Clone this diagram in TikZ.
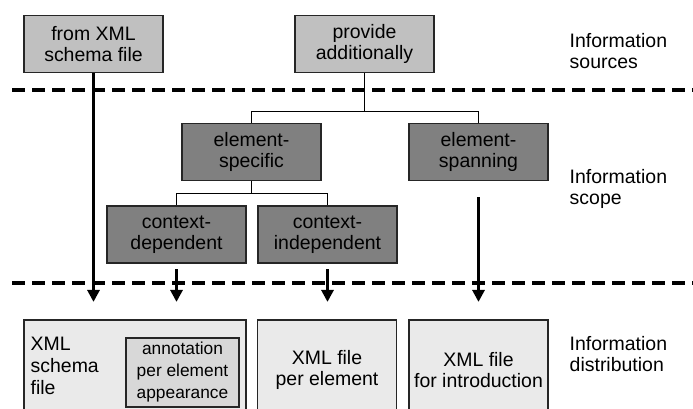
\documentclass[tikz,border=0pt]{standalone}
\usepackage{fontspec}
\setmainfont{Liberation Sans}
\usetikzlibrary{positioning,arrows.meta}

\definecolor{srcgray}{RGB}{192,192,192}
\definecolor{scopegray}{RGB}{128,128,128}
\definecolor{distgray}{RGB}{234,234,234}
\definecolor{annotgray}{RGB}{216,216,216}

\begin{document}
\begin{tikzpicture}[
  x=0.75pt, y=0.75pt,
  every node/.style={font=\fontsize{14.6pt}{15.8pt}\selectfont, align=center},
  box/.style={draw=black!85, line width=1.1pt, rectangle, minimum width=104pt, minimum height=43pt, inner sep=0pt},
  srcbox/.style={box, fill=srcgray},
  scopebox/.style={box, fill=scopegray},
  distbox/.style={box, fill=distgray, minimum height=75pt},
  tree/.style={line width=1.1pt},
  flow/.style={line width=2.3pt, -{Triangle[length=9pt, width=9pt]}},
  border/.style={line width=2.4pt, dash pattern=on 9.75pt off 5.25pt},
  lane/.style={anchor=west, align=left},
]
\useasboundingbox (0,0) rectangle (693,408);

% information sources
\node (fromxml) [srcbox] at (93.5,364) {from XML\\schema file};
\node (provide) [srcbox] at (364.5,364) {provide\\additionally};

% information scope
\node (elemspec) [scopebox] at (251.5,256) {element-\\specific};
\node (elemspan) [scopebox] at (478.5,256) {element-\\spanning};
\node (ctxdep) [scopebox] at (176.5,173.5) {context-\\dependent};
\node (ctxindep) [scopebox] at (327.5,173.5) {context-\\independent};

% information distribution
\node (schemafile) [distbox, minimum width=166.5pt,
  label={[anchor=north west, align=left, xshift=2pt, yshift=-10pt,
    font=\fontsize{14.6pt}{16.5pt}\selectfont]north west:XML\\schema\\file}]
  at (135,38) {};
\node (annot) [box, fill=annotgray, minimum width=84.75pt, minimum height=51.75pt,
  font=\fontsize{13pt}{16.5pt}\selectfont] at (182.5,35.5) {annotation\\per element\\appearance};
\node (perelement) [distbox] at (327,38) {XML file\\per element};
\node (intro) [distbox] at (478.5,38) {XML file\\for introduction};

% lane titles
\node (srclane) [lane] at (565,357) {Information\\sources};
\node (scopelane) [lane] at (565,219) {Information\\scope};
\node (distlane) [lane] at (565,54) {Information\\distribution};

% lane borders
\coordinate (topleft) at (12,318);
\coordinate (botleft) at (12,125);
\draw[border] (topleft) -- ++(681,0);
\draw[border] (botleft) -- ++(681,0);

% tree
\draw[tree] (provide.south) -- ++(0,-38) coordinate (srcsplit);
\draw[tree] (elemspec.north) |- (srcsplit) -| (elemspan.north);
\draw[tree] (elemspec.south) -- ++(0,-12) coordinate (scopesplit);
\draw[tree] (ctxdep.north) |- (scopesplit) -| (ctxindep.north);

% flows
\draw[flow, shorten >=13] (fromxml.south) -- (fromxml.south |- schemafile.north);
\draw[flow, shorten <=4, shorten >=13] (ctxdep.south) -- (ctxdep.south |- schemafile.north);
\draw[flow, shorten <=4, shorten >=13] (ctxindep.south) -- (ctxindep.south |- perelement.north);
\draw[flow, shorten <=12, shorten >=13] (elemspan.south) -- (elemspan.south |- intro.north);

\end{tikzpicture}
\end{document}
